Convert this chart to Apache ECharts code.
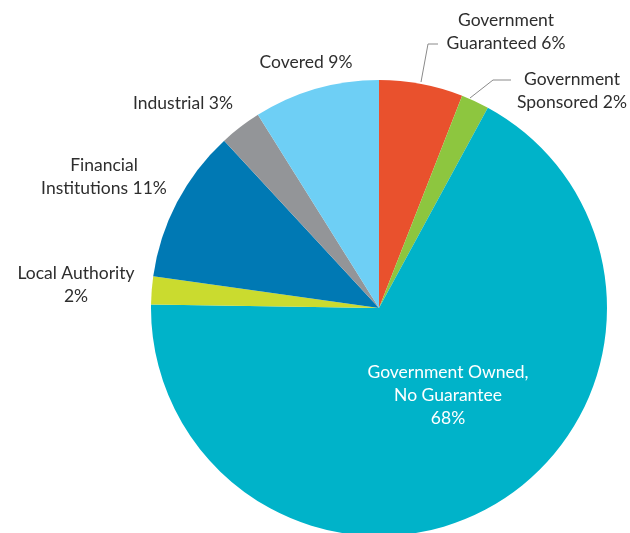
<!DOCTYPE html>
<html>
<head>
<meta charset="utf-8">
<script src="https://cdn.jsdelivr.net/npm/echarts@6/dist/echarts.min.js"></script>
<style>
  html, body { margin: 0; padding: 0; background: #fff; }
  #chart { width: 630px; height: 533px; }
</style>
</head>
<body>
<div id="chart"></div>
<script>
// Portfolio breakdown by issuer type (share of total, %)
const categories = [
  'Government\nGuaranteed',
  'Government\nSponsored',
  'Government Owned,\nNo Guarantee',
  'Local Authority',
  'Financial\nInstitutions',
  'Industrial',
  'Covered'
];
const shares = [6, 2, 68, 2, 11, 3, 9];
const colors = ['#E9512D', '#8DC63F', '#00B3C9', '#CADB2F', '#0079B4', '#939598', '#6ECFF5'];
// separator placed between the name and its percentage
const separators = [' ', ' ', '\n', '\n', ' ', ' ', ' '];

// label anchor points and leader lines
const labelSpots = [
  { x: 506, y: 32, line: [[421, 82], [428, 44], [438, 44]] },
  { x: 572, y: 91, line: [[470, 98], [493, 80], [511, 80]] },
  { x: 448, y: 395 },
  { x: 76, y: 285 },
  { x: 104, y: 177 },
  { x: 183, y: 103 },
  { x: 306, y: 62 }
];

const chart = echarts.init(document.getElementById('chart'));
const data = categories.map((name, i) => ({
  name: name,
  value: shares[i],
  itemStyle: { color: colors[i] },
  label: { color: i === 2 ? '#ffffff' : '#2e2e2e' },
  labelLine: { show: !!labelSpots[i].line }
}));

chart.setOption({
  animation: false,
  series: [{
    type: 'pie',
    center: [379, 308],
    radius: 228,
    startAngle: 90,
    clockwise: true,
    avoidLabelOverlap: false,
    itemStyle: { borderWidth: 0 },
    label: {
      show: true,
      position: 'outside',
      fontFamily: 'Lato',
      fontSize: 17.5,
      lineHeight: 23,
      align: 'center',
      formatter: p => p.name + separators[p.dataIndex] + p.value + '%'
    },
    labelLine: {
      lineStyle: { color: '#8a8a8a', width: 1 }
    },
    labelLayout: params => {
      const s = labelSpots[params.dataIndex];
      const out = { x: s.x, y: s.y, align: 'center', verticalAlign: 'middle' };
      if (s.line) out.labelLinePoints = s.line;
      return out;
    },
    data: data
  }]
});
</script>
</body>
</html>
